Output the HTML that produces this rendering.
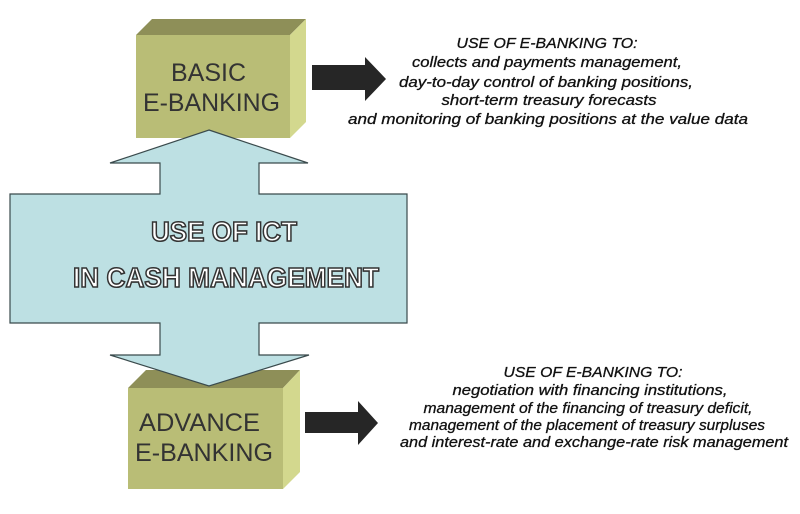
<!DOCTYPE html>
<html><head><meta charset="utf-8"><style>html,body{margin:0;padding:0;background:#fff;}svg{display:block}</style></head>
<body>
<svg width="800" height="514" viewBox="0 0 800 514" xmlns="http://www.w3.org/2000/svg">
<polygon points="136,35 152,19 306,19 290,35" fill="#8e8f58"/>
<polygon points="290,35 306,19 306,122 290,138" fill="#d3d88e"/>
<rect x="136" y="35" width="154" height="103" fill="#b9bd76"/>
<polygon points="128,388 146,370 300,370 283,388" fill="#8e8f58"/>
<polygon points="283,388 300,370 300,472 283,489" fill="#d3d88e"/>
<rect x="128" y="388" width="155" height="101" fill="#b9bd76"/>
<polygon points="209,130 308,163 259,163 259,194 407,194 407,323 259,323 259,355 309,355 209,386 110,355 160,355 160,323 10,323 10,194 160,194 160,163 110,163" fill="#bde0e3" stroke="#3a4a4c" stroke-width="1.2"/>
<g font-family="Liberation Sans, sans-serif" font-weight="bold" font-size="28" fill="#fff" stroke="#333" stroke-width="1.6" text-anchor="middle">
<text x="224" y="241" textLength="146" lengthAdjust="spacingAndGlyphs">USE OF ICT</text>
<text x="226" y="287" textLength="306" lengthAdjust="spacingAndGlyphs">IN CASH MANAGEMENT</text>
</g>
<g font-family="Liberation Sans, sans-serif" font-size="25" fill="#333">
<text x="171" y="81" textLength="75" lengthAdjust="spacingAndGlyphs">BASIC</text>
<text x="143" y="111" textLength="137" lengthAdjust="spacingAndGlyphs">E-BANKING</text>
<text x="139" y="431" textLength="121" lengthAdjust="spacingAndGlyphs">ADVANCE</text>
<text x="135" y="461" textLength="138" lengthAdjust="spacingAndGlyphs">E-BANKING</text>
</g>
<polygon points="312,65 365,65 365,57 386,79 365,101 365,90 312,90" fill="#262626"/>
<polygon points="305,412 358,412 358,401 378,423 358,445 358,433 305,433" fill="#262626"/>
<g font-family="Liberation Sans, sans-serif" font-style="italic" font-size="15" fill="#111" stroke="#111" stroke-width="0.3" text-anchor="middle">
<text x="547" y="48" textLength="181" lengthAdjust="spacingAndGlyphs">USE OF E-BANKING TO:</text>
<text x="547" y="67" textLength="270" lengthAdjust="spacingAndGlyphs">collects and payments management,</text>
<text x="546" y="87" textLength="294" lengthAdjust="spacingAndGlyphs">day-to-day control of banking positions,</text>
<text x="549" y="105" textLength="215" lengthAdjust="spacingAndGlyphs">short-term treasury forecasts</text>
<text x="548" y="124" textLength="400" lengthAdjust="spacingAndGlyphs">and monitoring of banking positions at the value data</text>
<text x="593" y="377" textLength="179" lengthAdjust="spacingAndGlyphs">USE OF E-BANKING TO:</text>
<text x="590" y="395" textLength="275" lengthAdjust="spacingAndGlyphs">negotiation with financing institutions,</text>
<text x="588" y="413" textLength="329" lengthAdjust="spacingAndGlyphs">management of the financing of treasury deficit,</text>
<text x="587" y="430" textLength="356" lengthAdjust="spacingAndGlyphs">management of the placement of treasury surpluses</text>
<text x="594" y="447" textLength="388" lengthAdjust="spacingAndGlyphs">and interest-rate and exchange-rate risk management</text>
</g>
</svg>
</body></html>
